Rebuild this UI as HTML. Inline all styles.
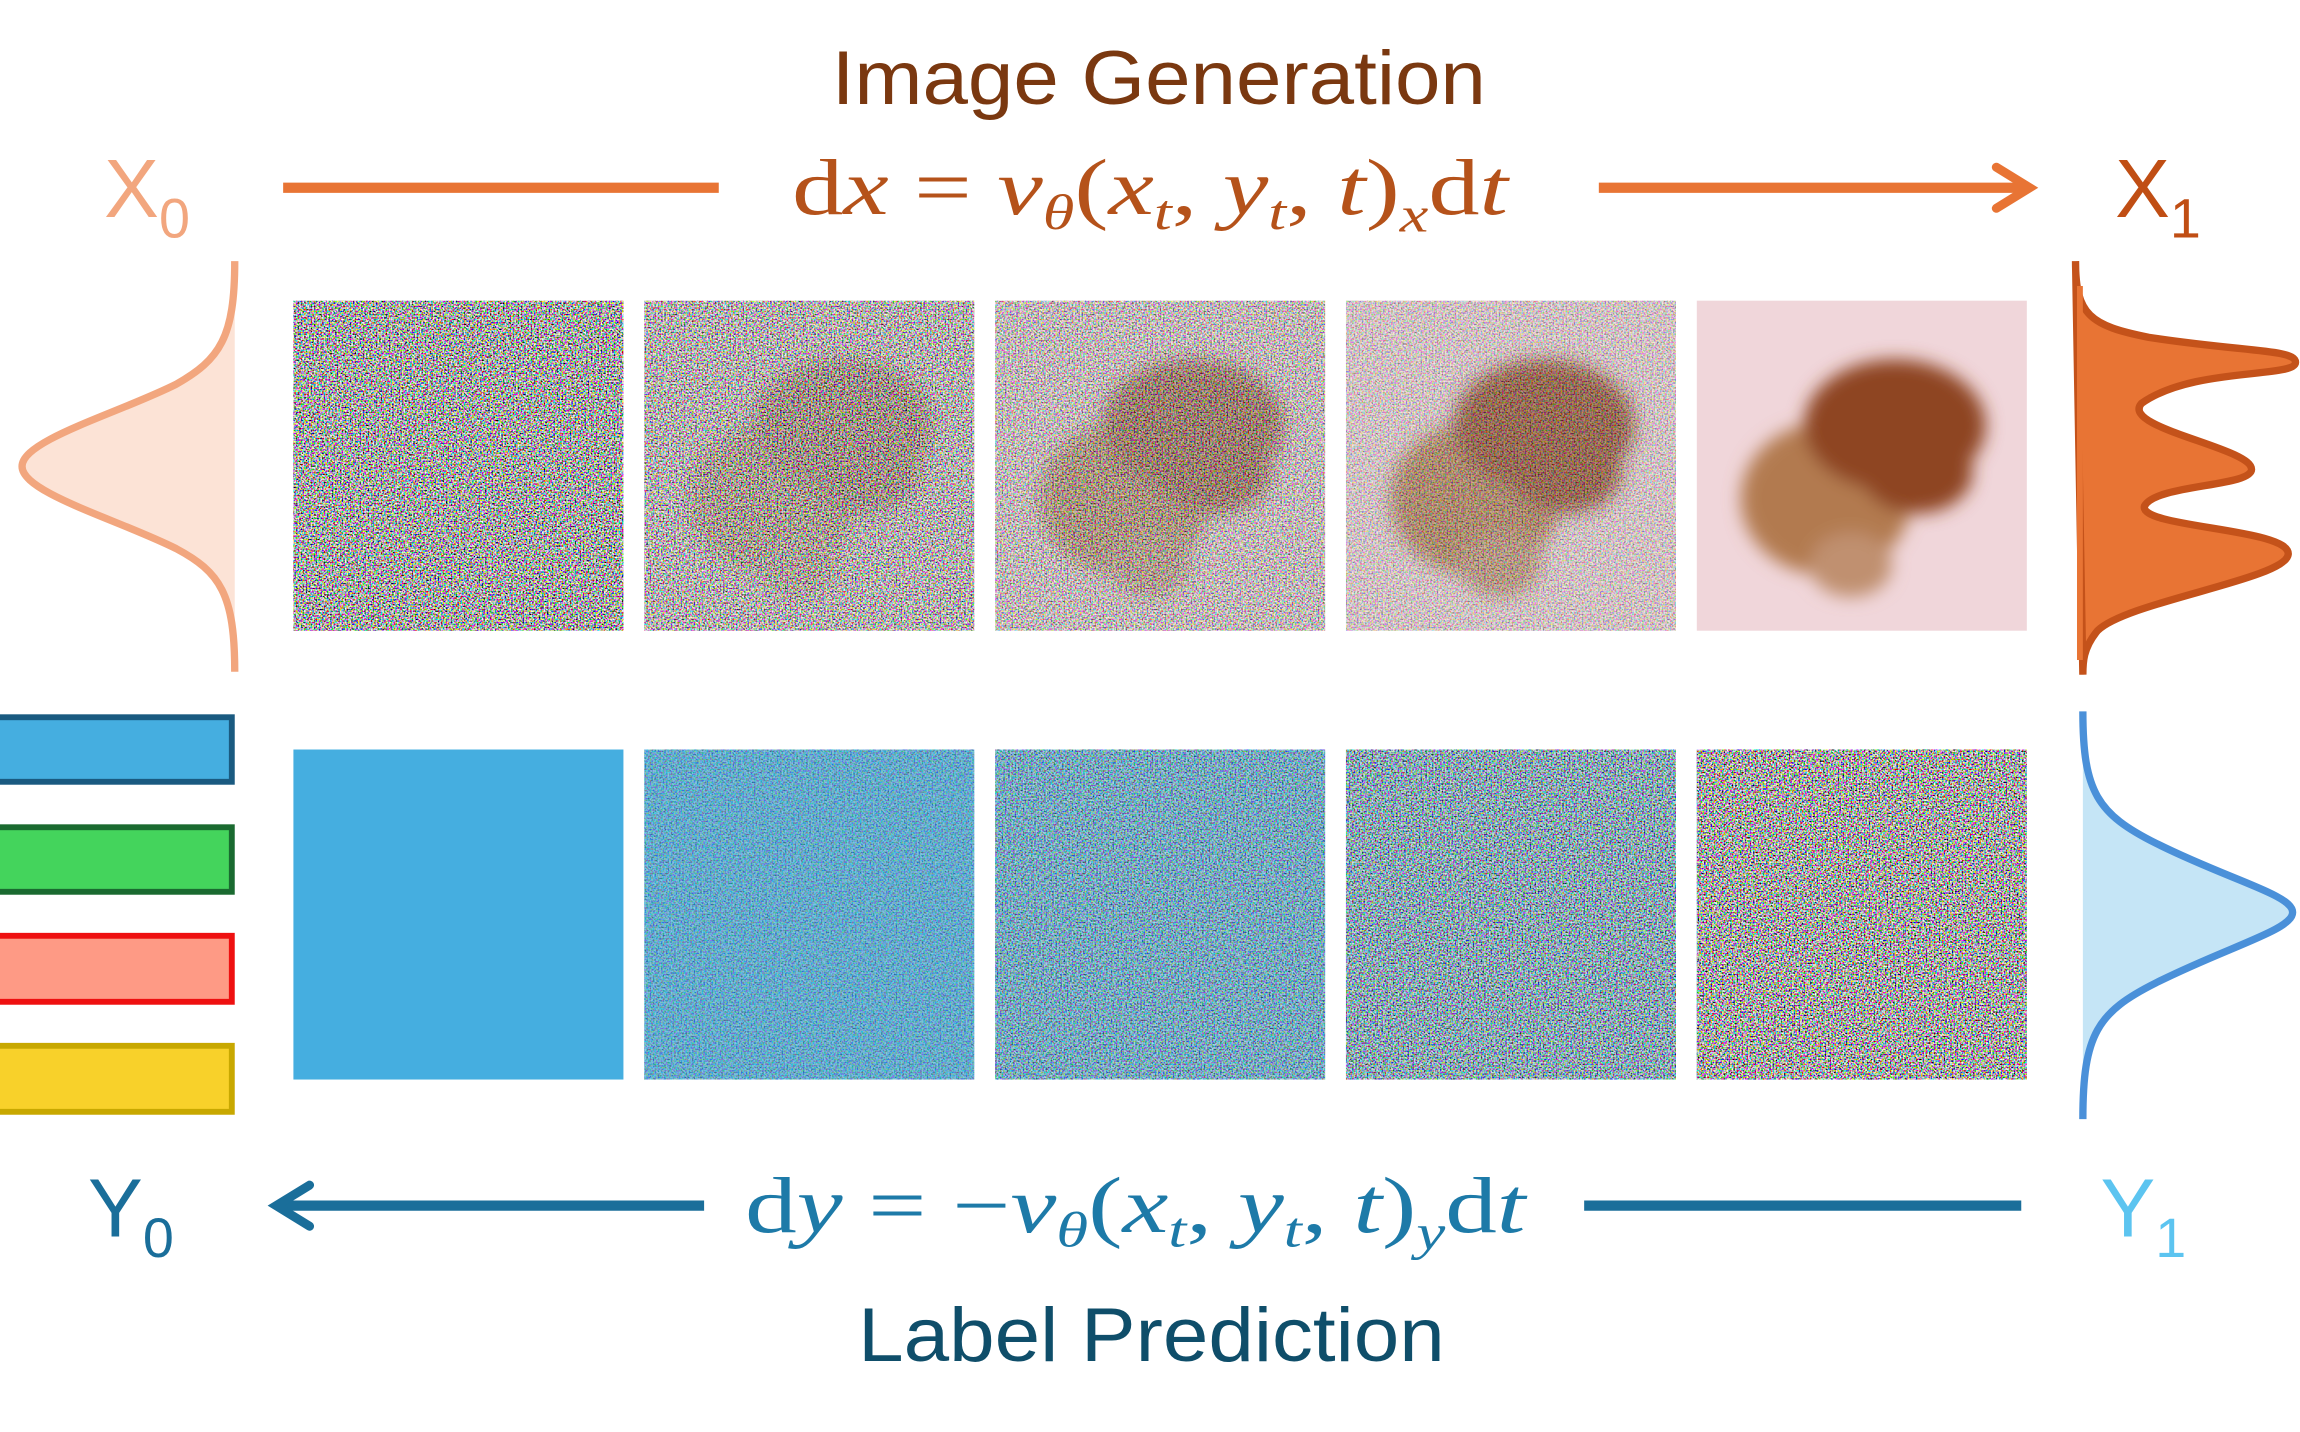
<!DOCTYPE html>
<html><head><meta charset="utf-8"><style>
html,body{margin:0;padding:0;background:#fff;}
svg{display:block;}
.sans{font-family:"Liberation Sans",sans-serif;}
.serif{font-family:"Liberation Serif",serif;}
</style></head><body>
<svg id="fig" width="2300" height="1432" viewBox="0 0 1568 976.3" xmlns="http://www.w3.org/2000/svg">
<defs>
<filter id="noise" x="0" y="0" width="100%" height="100%" filterUnits="objectBoundingBox">
<feTurbulence type="fractalNoise" baseFrequency="0.9" numOctaves="1" seed="3" result="t"/>
<feColorMatrix in="t" type="matrix" values="3.6 0 0 0 -1.35  0 3.6 0 0 -1.35  0 0 3.6 0 -1.35  0 0 0 0 1" result="c"/>
<feComposite in="c" in2="SourceGraphic" operator="in"/>
</filter>
<filter id="blur8"><feGaussianBlur stdDeviation="6"/></filter>
<marker id="arrO" viewBox="0 0 20 20" refX="14" refY="10" markerWidth="5" markerHeight="5" orient="auto" markerUnits="strokeWidth"><path d="M2,2 L15,10 L2,18" fill="none" stroke="#e87434" stroke-width="3.5" stroke-linecap="round"/></marker>
<marker id="arrB" viewBox="0 0 20 20" refX="14" refY="10" markerWidth="5" markerHeight="5" orient="auto" markerUnits="strokeWidth"><path d="M2,2 L15,10 L2,18" fill="none" stroke="#1a6e9a" stroke-width="3.5" stroke-linecap="round"/></marker>
</defs>

<text class="sans" x="567" y="71" font-size="52" fill="#7a3810" textLength="446" lengthAdjust="spacingAndGlyphs">Image Generation</text>
<text class="sans" x="71" y="148" font-size="56" fill="#f2a67e">X<tspan font-size="38" dy="14">0</tspan></text>
<text class="sans" x="1442" y="148" font-size="56" fill="#c04e14">X<tspan font-size="38" dy="14">1</tspan></text>
<line x1="193" y1="128" x2="490" y2="128" stroke="#e87434" stroke-width="7"/>
<line x1="1090" y1="128" x2="1382" y2="128" stroke="#e87434" stroke-width="7" marker-end="url(#arrO)"/>
<text class="serif" x="540" y="146" font-size="54" fill="#b5521a" textLength="488" lengthAdjust="spacingAndGlyphs">d<tspan font-style="italic">x</tspan> = <tspan font-style="italic">v</tspan><tspan font-size="34" font-style="italic" dy="10">θ</tspan><tspan dy="-10">(</tspan><tspan font-style="italic">x</tspan><tspan font-size="34" font-style="italic" dy="10">t</tspan><tspan dy="-10">, </tspan><tspan font-style="italic">y</tspan><tspan font-size="34" font-style="italic" dy="10">t</tspan><tspan dy="-10">, </tspan><tspan font-style="italic">t</tspan>)<tspan font-size="34" font-style="italic" dy="12">x</tspan><tspan dy="-12">d</tspan><tspan font-style="italic">t</tspan></text>

<path d="M160,178 C160,230 150,245 120,262 C80,282 15,300 15,318 C15,336 80,354 120,374 C150,390 160,405 160,458 Z" fill="#fce3d6" stroke="none"/>
<path d="M160,178 C160,230 150,245 120,262 C80,282 15,300 15,318 C15,336 80,354 120,374 C150,390 160,405 160,458" fill="none" stroke="#f2a67e" stroke-width="5"/>

<path d="M1415,178 C1415,215 1425,222 1465,230 C1530,240 1565,238 1565,247 C1565,258 1495,250 1460,275 C1445,292 1535,305 1535,320 C1535,332 1470,330 1462,345 C1458,360 1562,360 1560,378 C1558,395 1450,410 1430,430 C1420,442 1420,452 1420,460 Z" fill="#e87434" stroke="#c4521a" stroke-width="5"/>
<line x1="1418" y1="195" x2="1418" y2="450" stroke="#e87434" stroke-width="4"/>

<path d="M1420,485 C1420,540 1430,555 1470,575 C1520,600 1563,610 1563,622 C1563,634 1520,645 1470,670 C1430,690 1420,705 1420,763 Z" fill="#c5e5f6"/>
<path d="M1420,485 C1420,540 1430,555 1470,575 C1520,600 1563,610 1563,622 C1563,634 1520,645 1470,670 C1430,690 1420,705 1420,763" fill="none" stroke="#4a90d9" stroke-width="5"/>

<rect x="-4" y="489" width="162" height="44" fill="#45aee0" stroke="#1a5a80" stroke-width="4"/>
<rect x="-4" y="564" width="162" height="44" fill="#44d45c" stroke="#1a6a30" stroke-width="4"/>
<rect x="-4" y="638" width="162" height="45" fill="#fe9a85" stroke="#ee1010" stroke-width="4"/>
<rect x="-4" y="713" width="162" height="45" fill="#f8d12a" stroke="#c8a800" stroke-width="4"/>

<g id="row1"></g>
<g id="row2"></g>

<text class="sans" x="60" y="843" font-size="56" fill="#1a6e9a">Y<tspan font-size="38" dy="14">0</tspan></text>
<text class="sans" x="1432" y="843" font-size="56" fill="#5cc4f0">Y<tspan font-size="38" dy="14">1</tspan></text>
<line x1="480" y1="822" x2="190" y2="822" stroke="#1a6e9a" stroke-width="7" marker-end="url(#arrB)"/>
<line x1="1080" y1="822" x2="1378" y2="822" stroke="#1a6e9a" stroke-width="7"/>
<text class="serif" x="508" y="840" font-size="54" fill="#1d7aa8" textLength="532" lengthAdjust="spacingAndGlyphs">d<tspan font-style="italic">y</tspan> = −<tspan font-style="italic">v</tspan><tspan font-size="34" font-style="italic" dy="10">θ</tspan><tspan dy="-10">(</tspan><tspan font-style="italic">x</tspan><tspan font-size="34" font-style="italic" dy="10">t</tspan><tspan dy="-10">, </tspan><tspan font-style="italic">y</tspan><tspan font-size="34" font-style="italic" dy="10">t</tspan><tspan dy="-10">, </tspan><tspan font-style="italic">t</tspan>)<tspan font-size="34" font-style="italic" dy="12">y</tspan><tspan dy="-12">d</tspan><tspan font-style="italic">t</tspan></text>
<text class="sans" x="585" y="928" font-size="52" fill="#0f4e6a" textLength="400" lengthAdjust="spacingAndGlyphs">Label Prediction</text>
</svg>
<script>
const steps = ["t0","t1","t2","t3","t4"];
const imageNoise = [1.0, 0.8, 0.62, 0.42, 0.0];
const labelNoise = [0.0, 0.35, 0.55, 0.75, 1.0];
const NS = "http://www.w3.org/2000/svg";
const X0 = 200, STEP = 239.2, SIZE = 225;
function xAt(i){ return X0 + i*STEP; }
function mk(tag, attrs, parent){ const e=document.createElementNS(NS,tag); for(const k in attrs) e.setAttribute(k,attrs[k]); parent.appendChild(e); return e; }
const row1=document.getElementById('row1'), row2=document.getElementById('row2');
steps.forEach((s,i)=>{
  const x=xAt(i);
  const g=mk('g',{},row1);
  
  
  mk('rect',{x:x,y:205,width:SIZE,height:SIZE,fill:'#f0d6da'},g);
  const les=mk('g',{filter:'url(#blur8)'},g);
  mk('ellipse',{cx:x+88,cy:340,rx:58,ry:52,fill:'#b27a50'},les);
  mk('ellipse',{cx:x+105,cy:385,rx:28,ry:22,fill:'#c09070'},les);
  mk('ellipse',{cx:x+135,cy:290,rx:62,ry:45,fill:'#8e4424'},les);
  mk('ellipse',{cx:x+150,cy:322,rx:38,ry:28,fill:'#8e4424'},les);
  mk('rect',{x:x,y:205,width:SIZE,height:SIZE,fill:'#8a8090',filter:'url(#noise)',opacity:imageNoise[i]},g);
  const g2=mk('g',{},row2);
  
  
  mk('rect',{x:x,y:511,width:SIZE,height:SIZE,fill:'#45aee0'},g2);
  mk('rect',{x:x,y:511,width:SIZE,height:SIZE,fill:'#8a8090',filter:'url(#noise)',opacity:labelNoise[i]},g2);
});
</script>
</body></html>
